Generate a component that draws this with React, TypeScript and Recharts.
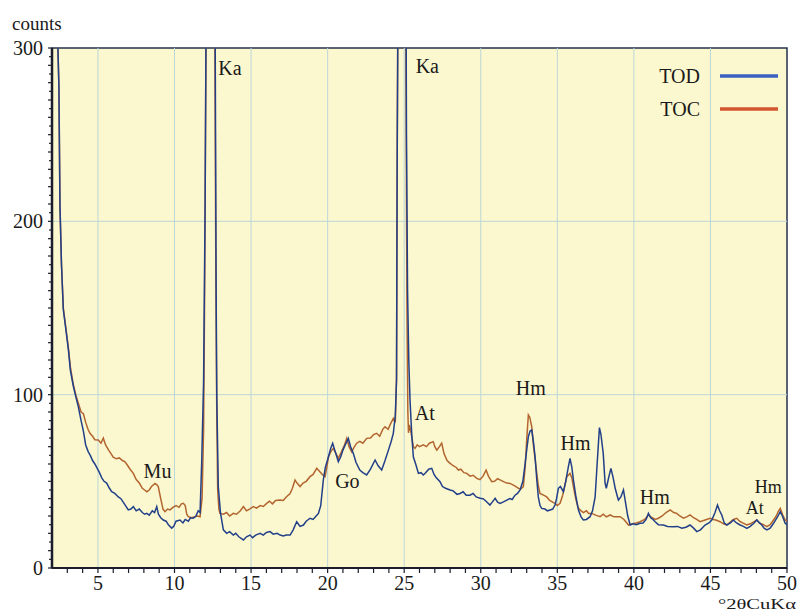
import React from 'react';
import {
  LineChart,
  Line,
  XAxis,
  YAxis,
  CartesianGrid,
  ReferenceArea,
  ReferenceDot,
  ReferenceLine,
  Legend,
} from 'recharts';

// ---------- data ----------
const todX = [
  2.0, 2.3, 2.45, 2.52, 2.62, 2.74, 2.9, 3.07, 3.2, 3.39, 3.55, 3.72, 3.9, 4.05, 4.2, 4.37, 4.5, 4.65, 4.8, 4.92,
  5.1, 5.25, 5.4, 5.57, 5.75, 5.9, 6.1, 6.33, 6.5, 6.65, 6.8, 6.98, 7.15, 7.31, 7.5, 7.7, 7.9, 8.05, 8.19, 8.35,
  8.55, 8.7, 8.84, 8.95, 9.1, 9.27, 9.45, 9.6, 9.82, 9.95, 10.1, 10.36, 10.55, 10.7, 10.9, 11.05, 11.23, 11.4, 11.55, 11.67,
  11.78, 11.9, 11.95, 12.0, 12.4, 12.72, 12.76, 12.86, 13.0, 13.19, 13.41, 13.6, 13.84, 14.0, 14.2, 14.5, 14.7, 14.93, 15.1, 15.3,
  15.59, 15.8, 16.0, 16.24, 16.45, 16.7, 16.9, 17.1, 17.3, 17.55, 17.75, 17.98, 18.2, 18.42, 18.6, 18.85, 19.05, 19.25, 19.4, 19.55,
  19.72, 19.85, 20.05, 20.2, 20.33, 20.5, 20.7, 20.85, 21.0, 21.15, 21.35, 21.5, 21.68, 21.85, 22.1, 22.3, 22.55, 22.8, 23.1, 23.3,
  23.53, 23.75, 23.97, 24.15, 24.29, 24.42, 24.5, 24.54, 24.9, 25.15, 25.22, 25.3, 25.38, 25.5, 25.6, 25.75, 25.93, 26.1, 26.25, 26.4,
  26.6, 26.8, 26.95, 27.1, 27.34, 27.5, 27.7, 28.0, 28.2, 28.45, 28.65, 28.85, 29.05, 29.3, 29.5, 29.7, 29.96, 30.15, 30.35, 30.6,
  30.75, 30.94, 31.1, 31.26, 31.45, 31.7, 31.9, 32.05, 32.24, 32.4, 32.57, 32.75, 32.9, 33.0, 33.11, 33.22, 33.33, 33.45, 33.55, 33.65,
  33.76, 33.87, 33.98, 34.2, 34.35, 34.53, 34.7, 34.85, 34.95, 35.07, 35.2, 35.4, 35.55, 35.72, 35.83, 35.95, 36.05, 36.2, 36.38, 36.55,
  36.7, 36.9, 37.14, 37.3, 37.47, 37.6, 37.75, 37.85, 38.0, 38.12, 38.2, 38.35, 38.5, 38.65, 38.78, 38.9, 38.99, 39.15, 39.32, 39.45,
  39.6, 39.76, 39.95, 40.15, 40.41, 40.6, 40.8, 40.95, 41.1, 41.25, 41.39, 41.6, 41.93, 42.2, 42.58, 42.85, 43.13, 43.4, 43.67, 43.9,
  44.11, 44.35, 44.65, 44.9, 45.09, 45.3, 45.46, 45.6, 45.74, 45.9, 46.07, 46.3, 46.5, 46.7, 46.94, 47.15, 47.38, 47.6, 47.85, 48.03,
  48.2, 48.36, 48.5, 48.69, 48.9, 49.12, 49.35, 49.56, 49.7, 49.88, 50.0,
];
const todY = [
  600, 330, 278, 209, 175, 149, 138, 126, 114, 105, 99, 93, 85, 79, 71, 67, 65, 62, 60, 58,
  55, 52, 50, 49, 46, 44, 43, 41, 40, 38, 36, 33.5, 34, 35.4, 33, 34, 32, 31, 31.5, 30.5,
  33, 32, 35.4, 31, 29, 27.7, 27, 25, 23, 24, 27, 27.7, 26, 28, 27, 29, 28.7, 30, 33, 32,
  62, 108, 160, 210, 900, 160, 100, 47, 32, 22, 20, 21, 19, 20, 18, 16.2, 18, 19, 17.5, 19,
  20, 19, 20.5, 21, 19.5, 20, 19, 18.5, 19, 19, 22, 26.7, 24, 24.8, 27, 28.7, 28, 30, 31.5, 36,
  50.8, 58, 64, 69, 72, 67, 61.3, 64, 68, 71, 74.8, 70, 66, 61, 56.5, 55, 53.7, 57, 62.3, 59,
  56.5, 62, 68, 73, 77.7, 88, 108, 230, 900, 250, 160, 120, 97, 76, 64, 60, 54.6, 55, 53.7, 55,
  57, 57.5, 54, 52, 49.8, 47, 46, 45, 44.5, 42.5, 43, 44, 42, 42, 43, 41, 40.2, 40, 38.5, 36.3,
  38, 40.2, 38, 37.3, 38, 39.2, 40, 39.5, 42, 43, 45, 50, 60.4, 68, 75.8, 79, 79.6, 72, 64, 52,
  41, 36, 34.4, 34, 33, 33.5, 34, 36.3, 40, 46, 47, 44, 50, 58.4, 63.3, 58, 50.8, 42, 33.5, 29.5,
  27.7, 28, 29.6, 33, 41, 60, 81, 77, 66, 49, 46, 52, 57.5, 52, 46, 42, 39.2, 41, 45, 38,
  30, 24.8, 25.5, 25, 25.8, 26, 28, 31.5, 29, 28, 26.7, 25, 24.8, 24, 23.8, 24, 22.9, 23.5, 24.8, 23,
  21, 22, 24.8, 26, 27.7, 32, 36.3, 33, 30.6, 26, 24.8, 26, 27.7, 26, 24.8, 24, 22.9, 24, 26, 27.7,
  26, 24.8, 23, 22, 23, 25.8, 29, 32.5, 30, 25.8, 25,
];

const tocX = [
  2.0, 2.3, 2.45, 2.52, 2.62, 2.74, 2.9, 3.07, 3.2, 3.39, 3.55, 3.72, 3.9, 4.05, 4.2, 4.35, 4.48, 4.65, 4.8, 5.02,
  5.2, 5.35, 5.5, 5.7, 5.85, 6.0, 6.2, 6.4, 6.6, 6.77, 6.95, 7.1, 7.31, 7.5, 7.7, 7.9, 8.05, 8.19, 8.35, 8.5,
  8.73, 8.85, 8.94, 9.1, 9.25, 9.38, 9.55, 9.71, 9.9, 10.1, 10.3, 10.45, 10.58, 10.7, 10.8, 10.9, 11.1, 11.3, 11.5, 11.67,
  11.8, 11.9, 11.97, 12.03, 12.4, 12.64, 12.7, 12.76, 12.82, 12.9, 12.97, 13.2, 13.4, 13.6, 13.84, 14.05, 14.3, 14.5, 14.7, 14.9,
  15.15, 15.35, 15.6, 15.8, 16.02, 16.2, 16.4, 16.6, 16.9, 17.1, 17.3, 17.55, 17.7, 17.87, 18.0, 18.2, 18.4, 18.6, 18.85, 19.05,
  19.29, 19.45, 19.65, 19.83, 19.95, 20.05, 20.2, 20.37, 20.55, 20.7, 20.9, 21.1, 21.25, 21.4, 21.57, 21.75, 21.9, 22.1, 22.3, 22.55,
  22.8, 23.0, 23.2, 23.4, 23.6, 23.75, 23.95, 24.1, 24.29, 24.42, 24.5, 24.55, 24.88, 25.12, 25.18, 25.24, 25.28, 25.34, 25.45, 25.6,
  25.71, 25.85, 26.0, 26.25, 26.45, 26.65, 26.9, 27.0, 27.13, 27.3, 27.45, 27.6, 27.8, 28.0, 28.2, 28.4, 28.54, 28.7, 28.9, 29.09,
  29.3, 29.5, 29.74, 29.95, 30.15, 30.35, 30.5, 30.72, 30.9, 31.1, 31.26, 31.45, 31.7, 31.92, 32.1, 32.3, 32.46, 32.6, 32.78, 32.9,
  33.0, 33.11, 33.2, 33.33, 33.45, 33.61, 33.75, 33.87, 34.1, 34.31, 34.5, 34.7, 34.85, 35.0, 35.18, 35.35, 35.5, 35.62, 35.83, 35.95,
  36.05, 36.2, 36.35, 36.48, 36.7, 36.9, 37.05, 37.25, 37.5, 37.8, 38.0, 38.2, 38.45, 38.7, 38.99, 39.1, 39.35, 39.65, 39.9, 40.15,
  40.41, 40.7, 40.95, 41.2, 41.4, 41.6, 41.85, 42.1, 42.37, 42.6, 42.8, 43.0, 43.24, 43.45, 43.67, 43.9, 44.1, 44.33, 44.6, 44.98,
  45.2, 45.4, 45.63, 45.85, 46.07, 46.3, 46.5, 46.72, 46.9, 47.1, 47.38, 47.6, 47.8, 48.03, 48.2, 48.45, 48.69, 48.9, 49.12, 49.3,
  49.45, 49.56, 49.7, 49.88, 50.0,
];
const tocY = [
  600, 330, 278, 209, 175, 150, 139, 127, 116, 106, 100, 95, 90, 89, 84, 80, 77.7, 76, 74, 73.8,
  72, 75, 71, 68, 66, 64, 63, 63.5, 62, 61.3, 59, 57, 54.6, 51, 49, 46, 45, 44, 45, 47,
  48.8, 48, 47, 40, 34, 32.5, 34, 33.5, 35, 36, 35, 37, 37.3, 36, 31, 29.6, 29, 29.5, 30, 29.6,
  40, 80, 160, 260, 850, 300, 170, 90, 45, 34, 31.5, 31, 32, 30, 31.5, 31, 33, 35.4, 33, 34,
  35.4, 34.5, 36, 35.5, 37.3, 38.5, 37, 39, 39.2, 39, 41, 43, 46, 50.8, 49, 47, 49, 50, 52.7, 54,
  57.5, 56, 54, 52.7, 58, 64, 67, 69, 66, 63.3, 67, 71, 74.8, 70, 67, 70, 72, 73, 72, 74.8,
  75, 77, 77.7, 76, 80, 81.5, 80, 83, 86.3, 84, 110, 250, 850, 280, 150, 90, 78, 82.5, 78, 70,
  69, 71, 70, 71, 70, 72, 72.9, 70, 68, 70, 72, 66, 62, 60.4, 59, 58, 56.5, 57, 55, 54.6,
  53, 53.5, 51.7, 51, 53, 56.5, 53, 49.8, 50, 51.5, 50.8, 50, 49, 48.8, 48, 47, 46, 45.5, 47, 58,
  74, 88.3, 87, 81.5, 70, 58.4, 48, 43, 42, 41, 39, 38, 37.3, 36, 37.3, 42, 48, 52.7, 54.6, 52,
  47, 40, 35, 33.5, 32, 33, 31.5, 31.5, 30.5, 29.6, 31, 29.5, 30.6, 29.5, 29.6, 29.6, 28, 24.8, 25.5, 26,
  26.7, 28, 30.6, 29, 28, 28.7, 30, 32, 33.5, 32, 31.5, 30, 28.7, 29.5, 30.6, 29, 28, 26.7, 27.5, 28.7,
  28, 27.5, 26.7, 25.5, 24.8, 26.5, 28, 28.7, 27, 26, 24.8, 25.5, 26.5, 27.7, 26, 25, 23.8, 25, 27.7, 30,
  33, 34.4, 31, 27.7, 27,
];

const xTickValues = [
  3, 4, 5, 6, 7, 8, 9, 10, 11, 12, 13, 14, 15, 16, 17, 18, 19, 20, 21, 22, 23, 24, 25, 26,
  27, 28, 29, 30, 31, 32, 33, 34, 35, 36, 37, 38, 39, 40, 41, 42, 43, 44, 45, 46, 47, 48, 49, 50,
];
const xLabelled = [5, 10, 15, 20, 25, 30, 35, 40, 45, 50];
const yTickValues = [
  0, 5, 10, 15, 20, 25, 30, 35, 40, 45, 50, 55, 60, 65, 70, 75, 80, 85, 90, 95,
  100, 105, 110, 115, 120, 125, 130, 135, 140, 145, 150, 155, 160, 165, 170, 175, 180, 185, 190, 195,
  200, 205, 210, 215, 220, 225, 230, 235, 240, 245, 250, 255, 260, 265, 270, 275, 280, 285, 290, 295, 300,
];
const yLabelled = [0, 100, 200, 300];
const gridX = [5, 10, 15, 20, 25, 30, 35, 40, 45];
const gridY = [100, 200];

const peakLabels = ['Ka', 'Ka', 'Mu', 'Go', 'At', 'Hm', 'Hm', 'Hm', 'At', 'Hm'];
const peakLabelX = [13.62, 26.51, 8.89, 21.29, 26.35, 33.27, 36.19, 41.36, 47.89, 48.78];
const peakLabelY = [284.4, 285.6, 52, 46, 85.4, 99.8, 68, 36.9, 31.2, 43];

const seriesNames = ['TOD', 'TOC'];

// ---------- styles ----------
const FONT = '"Liberation Serif", "Times New Roman", serif';
const TEXT = '#1a1a1a';
const BLUE = '#22408a';
const ORANGE = '#b3652f';
const LEGEND_BLUE = '#3b60c2';
const LEGEND_ORANGE = '#d2562f';
const AXIS = '#1b1e2a';
const GRID = '#bcd7d8';

const toPoints = (xs: number[], ys: number[]) => xs.map((x, i) => ({ x, y: ys[i] }));

const XTick = (props: any) => {
  const { x, y, payload } = props;
  const v = payload.value;
  return (
    <g>
      <line x1={x} x2={x} y1={y} y2={y + 5} stroke={AXIS} strokeWidth={1.2} />
      {xLabelled.includes(v) && (
        <text x={x} y={y + 22} textAnchor="middle" fontFamily={FONT} fontSize={20} fill={TEXT}>
          {v}
        </text>
      )}
    </g>
  );
};

const YTick = (props: any) => {
  const { x, y, payload } = props;
  const v = payload.value;
  return (
    <g>
      <line x1={x} x2={x - (v % 10 === 0 ? 4 : 3)} y1={y} y2={y} stroke={AXIS} strokeWidth={1.2} />
      {yLabelled.includes(v) && (
        <text x={x - 9} y={y} dy="0.35em" textAnchor="end" fontFamily={FONT} fontSize={20} fill={TEXT}>
          {v}
        </text>
      )}
    </g>
  );
};

const LegendContent = () => (
  <svg width={150} height={64} style={{ overflow: 'visible' }}>
    <text x={60} y={23} textAnchor="end" fontFamily={FONT} fontSize={20} fill={TEXT}>
      {seriesNames[0]}
    </text>
    <line x1={80} x2={138} y1={16} y2={16} stroke={LEGEND_BLUE} strokeWidth={3.5} />
    <text x={60} y={56} textAnchor="end" fontFamily={FONT} fontSize={20} fill={TEXT}>
      {seriesNames[1]}
    </text>
    <line x1={80} x2={138} y1={49} y2={49} stroke={LEGEND_ORANGE} strokeWidth={3.5} />
  </svg>
);

export default function App() {
  const tod = toPoints(todX, todY);
  const toc = toPoints(tocX, tocY);
  return (
    <div
      style={{
        position: 'absolute',
        left: 0,
        top: 0,
        width: 798,
        height: 612,
        background: '#ffffff',
        fontFamily: FONT,
      }}
    >
      <LineChart width={798} height={612} margin={{ top: 48, right: 11, left: 0, bottom: 0 }}>
        <CartesianGrid fill="#fbf7cf" horizontal={false} vertical={false} />
        {gridX.map((v) => (
          <ReferenceLine key={'gx' + v} x={v} stroke={GRID} strokeWidth={1} />
        ))}
        {gridY.map((v) => (
          <ReferenceLine key={'gy' + v} y={v} stroke={GRID} strokeWidth={1} />
        ))}
        <XAxis
          type="number"
          dataKey="x"
          domain={[2, 50]}
          allowDataOverflow
          ticks={xTickValues}
          interval={0}
          height={44}
          tickSize={0}
          tickMargin={0}
          tickLine={false}
          tick={<XTick />}
          axisLine={{ stroke: AXIS, strokeWidth: 2 }}
          label={{
            content: () => (
              <text
                x={796}
                y={608.5}
                textAnchor="end"
                fontFamily={FONT}
                fontSize={15.5}
                textLength={78}
                lengthAdjust="spacingAndGlyphs"
                fill={TEXT}
              >
                °2θCuKα
              </text>
            ),
          }}
        />
        <YAxis
          type="number"
          dataKey="y"
          domain={[0, 300]}
          allowDataOverflow
          ticks={yTickValues}
          interval={0}
          width={52}
          tickSize={0}
          tickMargin={0}
          tickLine={false}
          tick={<YTick />}
          axisLine={{ stroke: AXIS, strokeWidth: 2.5 }}
          label={{
            content: () => (
              <text x={12} y={30} textAnchor="start" fontFamily={FONT} fontSize={19} fill={TEXT}>
                counts
              </text>
            ),
          }}
        />
        <ReferenceArea x1={2} x2={50} y1={0} y2={300} fill="none" stroke="#24324d" strokeWidth={1.5} />
        <Line
          data={toc}
          dataKey="y"
          name={seriesNames[1]}
          type="linear"
          stroke={ORANGE}
          strokeWidth={1.5}
          dot={false}
          activeDot={false}
          isAnimationActive={false}
        />
        <Line
          data={tod}
          dataKey="y"
          name={seriesNames[0]}
          type="linear"
          stroke={BLUE}
          strokeWidth={1.5}
          dot={false}
          activeDot={false}
          isAnimationActive={false}
        />
        {peakLabels.map((t, i) => (
          <ReferenceDot
            key={i}
            x={peakLabelX[i]}
            y={peakLabelY[i]}
            ifOverflow="visible"
            shape={(p: any) => (
              <text
                x={p.cx}
                y={p.cy}
                textAnchor="middle"
                fontFamily={FONT}
                fontSize={i >= 8 ? 18 : 20}
                fill={TEXT}
              >
                {t}
              </text>
            )}
          />
        ))}
        <Legend
          layout="vertical"
          align="center"
          verticalAlign="middle"
          wrapperStyle={{ left: 640, top: 60, width: 150, height: 64 }}
          content={<LegendContent />}
        />
      </LineChart>
    </div>
  );
}
